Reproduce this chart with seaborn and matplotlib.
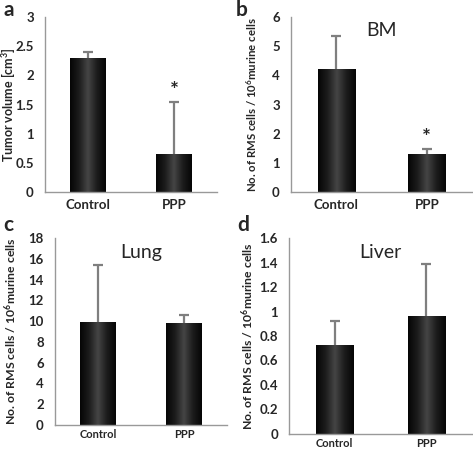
import numpy as np
import pandas as pd
import seaborn as sns
import matplotlib
matplotlib.use('Agg')
import matplotlib.pyplot as plt
from matplotlib.colors import LinearSegmentedColormap

# data
groups = ['Control', 'PPP']
tumor_mean = [2.30, 0.66]
tumor_err = [0.11, 0.88]
bm_mean = [4.22, 1.32]
bm_err = [1.14, 0.15]
lung_mean = [9.9, 9.8]
lung_err = [5.5, 0.8]
liver_mean = [0.73, 0.965]
liver_err = [0.19, 0.425]

sns.set_style('white')
plt.rcParams['font.family'] = ['Lato', 'DejaVu Sans']
plt.rcParams['mathtext.fontset'] = 'custom'
plt.rcParams['mathtext.rm'] = 'Lato:bold'
plt.rcParams['mathtext.it'] = 'Lato:bold'

W, H = 473, 451
fig = plt.figure(figsize=(W / 100, H / 100), dpi=100)

cmap = LinearSegmentedColormap.from_list('bar', ['#050505', '#1c1c1c', '#454545', '#1c1c1c', '#050505'])
ylab = 'No. of RMS cells / 10$^6$murine cells'

# letter, axes rect, means, errs, ymax, step, ylabel, title, star, x-label size, ylabel x, ylabel size, letter pos (px, baseline)
panels = [
    ('a', [0.095, 0.574, 0.364, 0.388], tumor_mean, tumor_err, 3, 0.5, 'Tumor volume [cm$^3$]', None, True, 9.5, -0.165, 9, (3, 16)),
    ('b', [0.615, 0.574, 0.383, 0.388], bm_mean, bm_err, 6, 1, ylab, 'BM', True, 9.5, -0.175, 8.2, (236, 16)),
    ('c', [0.116, 0.058, 0.364, 0.414], lung_mean, lung_err, 18, 2, ylab, 'Lung', False, 8, -0.21, 8.8, (3, 231)),
    ('d', [0.611, 0.038, 0.387, 0.434], liver_mean, liver_err, 1.6, 0.2, ylab, 'Liver', False, 8, -0.18, 8.8, (237, 231)),
]

for letter, rect, means, errs, ymax, step, label, title, star, xfs, lx, lfs, lpos in panels:
    ax = fig.add_axes(rect)
    df = pd.DataFrame({'group': groups, 'value': means})
    sns.barplot(data=df, x='group', y='value', color='#222222', width=0.41,
                errorbar=None, ax=ax, edgecolor='none')
    # upper-only error bars with a cap at the top
    tops = np.array(means) + np.array(errs)
    ax.errorbar(range(len(groups)), means, yerr=[np.zeros(len(errs)), errs],
                fmt='none', ecolor='#7f7f7f', elinewidth=1.6, capsize=0)
    ax.plot(range(len(groups)), tops, ls='none', marker='_', ms=7, mew=1.6, color='#7f7f7f')
    # gradient fill
    grad = np.linspace(0, 1, 256).reshape(1, -1)
    for p in ax.patches:
        x0, y0 = p.get_x(), p.get_y()
        w, h = p.get_width(), p.get_height()
        im = ax.imshow(grad, cmap=cmap, aspect='auto', extent=[x0, x0 + w, y0, y0 + h],
                       zorder=p.get_zorder() + 0.1)
        im.set_clip_path(p)
    ax.set_xlim(-0.5, 1.5)
    ax.set_ylim(0, ymax)
    ticks = np.arange(0, ymax + step / 2, step)
    ax.set_yticks(ticks)
    ax.set_yticklabels(['%g' % round(t, 2) for t in ticks], fontsize=9.5, fontweight='bold')
    ax.set_xticks([0, 1])
    ax.set_xticklabels(groups, fontsize=xfs, fontweight='bold')
    ax.set_xticks([-0.5, 0.5, 1.5], minor=True)
    ax.tick_params(axis='x', which='major', length=0, pad=5 if star else 3)
    ax.tick_params(axis='x', which='minor', length=4, color='#888888', direction='out')
    ax.tick_params(axis='y', length=4, color='#888888', direction='out', pad=4)
    ax.set_xlabel('')
    ax.set_ylabel(label, fontsize=lfs, fontweight='bold')
    ax.yaxis.set_label_coords(lx, 0.5)
    sns.despine(ax=ax)
    for s in ['left', 'bottom']:
        ax.spines[s].set_color('#999999')
        ax.spines[s].set_linewidth(1)
    if title:
        ax.text(0.5, 0.97, title, transform=ax.transAxes, ha='center', va='top', fontsize=14)
    if star:
        ax.text(1, tops[1] + ymax * 0.01, '*', ha='center', va='bottom',
                fontsize=15, fontweight='bold')
    fig.text(lpos[0] / W, 1 - lpos[1] / H, letter, fontsize=15,
             fontweight='bold', va='baseline', ha='left')

fig.savefig('out.png', dpi=100)
